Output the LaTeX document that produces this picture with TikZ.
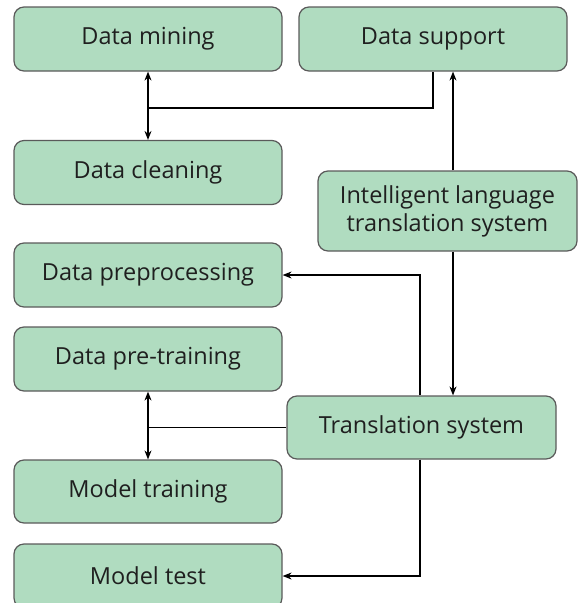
\documentclass[tikz,border=0pt]{standalone}
\usepackage{fontspec}
\setmainfont{Open Sans}
\usetikzlibrary{arrows.meta}
\definecolor{boxgreen}{RGB}{176,220,192}
\definecolor{boxline}{RGB}{90,90,90}
\begin{document}
\begin{tikzpicture}[x=1pt, y=-1pt,
  box/.style={rectangle, rounded corners=10pt, draw=boxline, line width=1.2pt, fill=boxgreen,
    minimum width=268pt, minimum height=64pt, inner sep=0pt, align=center,
    font=\fontsize{23.5}{28}\selectfont, text=black!88},
  link/.style={line width=1.1pt, -{Stealth[length=9pt, width=7pt]}}]
\useasboundingbox (0,0) rectangle (578,603);

\node[box] (mining) at (148,39) {Data mining};
\node[box] (support) at (433,39) {Data support};
\node[box] (cleaning) at (148,172.5) {Data cleaning};
\node[box, minimum width=259pt, minimum height=80pt] (intel) at (447.5,211) {Intelligent language\\translation system};
\node[box] (preproc) at (148,275) {Data preprocessing};
\node[box] (pretrain) at (148,359) {Data pre-training};
\node[box, minimum width=269pt, minimum height=63pt] (transl) at (421.5,427.5) {Translation system};
\node[box, minimum height=63pt] (modeltrain) at (148,491.5) {Model training};
\node[box] (modeltest) at (148,576) {Model test};

\coordinate (j1) at (148,108);
\coordinate (j2) at (pretrain.south |- transl.west);

\draw[link] (j1) -- (mining);
\draw[link] (j1) -- (cleaning);
\draw[line width=1.1pt] (j1) -| (support.south);

\draw[link] ([xshift=5.5pt]intel.north) -- ([xshift=5.5pt]intel.north |- support.south);
\draw[link] ([xshift=5.5pt]intel.south) -- ([xshift=5.5pt]intel.south |- transl.north);

\draw[link] ([xshift=-1.5pt]transl.north) |- (preproc.east);
\draw[link] ([xshift=-1.5pt]transl.south) |- (modeltest.east);

\draw[line width=1.1pt] (transl.west) -- (j2);
\draw[link] (j2) -- (pretrain);
\draw[link] (j2) -- (modeltrain);

\end{tikzpicture}
\end{document}
